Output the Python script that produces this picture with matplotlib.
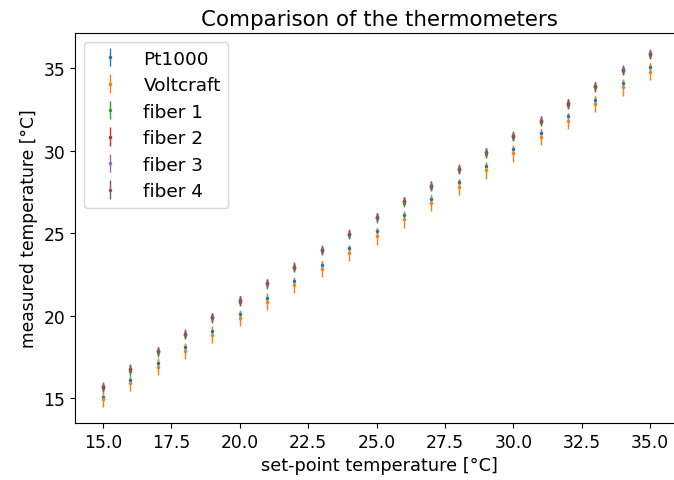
import numpy as np
import matplotlib.pyplot as plt

plt.rcParams['font.size'] = 12.3

# set-point temperatures
setpoint = [15, 16, 17, 18, 19, 20, 21, 22, 23, 24, 25,
            26, 27, 28, 29, 30, 31, 32, 33, 34, 35]

pt1000 = [15.06, 16.12, 17.12, 18.08, 19.08, 20.1, 21.1, 22.08, 23.1, 24.11, 25.12,
          26.08, 27.1, 28.08, 29.06, 30.1, 31.1, 32.08, 33.1, 34.08, 35.1]
pt1000_err = [0.2] * 21

voltcraft = [14.96, 15.95, 16.92, 17.85, 18.85, 19.85, 20.85, 21.85, 22.82, 23.8, 24.82,
             25.85, 26.85, 27.8, 28.82, 29.85, 30.85, 31.82, 32.85, 33.85, 34.8]
voltcraft_err = [0.5] * 21

fiber1 = [15.6, 16.68, 17.78, 18.82, 19.84, 20.86, 21.9, 22.88, 23.92, 24.88, 25.9,
          26.86, 27.8, 28.82, 29.82, 30.82, 31.74, 32.8, 33.84, 34.84, 35.8]
fiber2 = [15.68, 16.76, 17.86, 18.9, 19.9, 20.92, 21.97, 22.95, 24.0, 24.96, 25.97,
          26.94, 27.88, 28.9, 29.9, 30.9, 31.82, 32.86, 33.9, 34.9, 35.86]
fiber3 = [15.72, 16.8, 17.88, 18.92, 19.94, 20.95, 22.0, 22.98, 24.02, 24.98, 26.0,
          26.97, 27.9, 28.93, 29.93, 30.93, 31.85, 32.89, 33.93, 34.93, 35.9]
fiber4 = [15.7, 16.78, 17.86, 18.9, 19.92, 20.93, 21.98, 22.96, 24.0, 24.97, 25.98,
          26.95, 27.89, 28.91, 29.91, 30.91, 31.83, 32.87, 33.91, 34.91, 35.88]
fiber_err = [0.25] * 21

fig = plt.figure(figsize=(6.74, 4.81), dpi=100)
# right spine sits just outside the picture, as in the cropped original
ax = fig.add_axes([0.1113, 0.1185, 0.902, 0.8108])

kw = dict(fmt='.', markersize=3, elinewidth=1)
ax.errorbar(setpoint, pt1000, yerr=pt1000_err, label='Pt1000', **kw)
ax.errorbar(setpoint, voltcraft, yerr=voltcraft_err, label='Voltcraft', **kw)
ax.errorbar(setpoint, fiber1, yerr=fiber_err, label='fiber 1', **kw)
ax.errorbar(setpoint, fiber2, yerr=fiber_err, label='fiber 2', **kw)
ax.errorbar(setpoint, fiber3, yerr=fiber_err, label='fiber 3', **kw)
ax.errorbar(setpoint, fiber4, yerr=fiber_err, label='fiber 4', **kw)

ax.set_xlim(13.98, 36.2)
ax.set_ylim(13.5, 37.14)
ax.set_xticks([15.0, 17.5, 20.0, 22.5, 25.0, 27.5, 30.0, 32.5, 35.0])
ax.set_title('Comparison of the thermometers', fontsize=15.4)
ax.set_xlabel('set-point temperature [°C]', fontsize=12.8)
ax.set_ylabel('measured temperature [°C]')
ax.legend(loc='upper left', fontsize=13.3, labelspacing=0.46)

plt.savefig('out.png', dpi=100)
